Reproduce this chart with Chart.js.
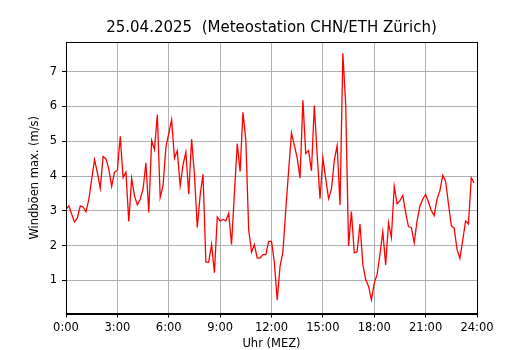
<!DOCTYPE html>
<html>
<head>
<meta charset="utf-8">
<script src="https://cdn.jsdelivr.net/npm/chart.js@4/dist/chart.umd.min.js"></script>
<style>
  html, body { margin: 0; padding: 0; background: #ffffff; }
  #c { display: block; }
</style>
</head>
<body>
<canvas id="c" width="530" height="350"></canvas>
<script>
// ---- data (10-minute maximum gusts, m/s), 25.04.2025 ----
const titleText = '25.04.2025  (Meteostation CHN/ETH Zürich)';
const xAxisLabel = 'Uhr (MEZ)';
const yAxisLabel = 'Windböen max. (m/s)';
const hourTicks = ['0:00','3:00','6:00','9:00','12:00','15:00','18:00','21:00','24:00'];
const stepMinutes = 10;
const gustMax = [
  3.04,3.14,2.90,2.68,2.80,3.14,3.11,2.97,3.33,3.91,
  4.47,4.09,3.65,4.56,4.50,4.20,3.70,4.11,4.16,5.14,
  3.96,4.11,2.69,3.93,3.43,3.17,3.33,3.62,4.38,2.95,
  5.02,4.76,5.77,3.38,3.72,4.83,5.22,5.62,4.51,4.73,
  3.72,4.32,4.69,3.48,5.06,4.05,2.52,3.45,4.05,1.52,
  1.52,2.03,1.22,2.82,2.71,2.75,2.71,2.93,2.03,3.50,
  4.93,4.13,5.83,5.04,2.46,1.81,2.03,1.64,1.64,1.74,
  1.74,2.12,2.12,1.52,0.43,1.41,1.82,3.02,4.16,5.24,
  4.88,4.52,3.94,6.18,4.65,4.73,4.15,6.03,4.60,3.35,
  4.52,3.91,3.35,3.62,4.45,4.88,3.17,7.53,6.05,1.99,
  2.98,1.79,1.82,2.62,1.46,1.02,0.83,0.44,0.92,1.17,
  1.75,2.40,1.44,2.66,2.23,3.70,3.20,3.29,3.44,2.95,
  2.54,2.52,2.08,2.71,3.13,3.34,3.47,3.25,3.00,2.86,
  3.34,3.58,4.02,3.85,3.20,2.57,2.50,1.89,1.63,2.15,
  2.71,2.62,3.95,3.80
];

const points = gustMax.map((v, i) => ({ x: i * stepMinutes / 60, y: v }));

const FONT = "'DejaVu Sans', sans-serif";

const frame = {
  id: 'frame',
  beforeDraw(chart) {
    const ctx = chart.ctx;
    ctx.save();
    ctx.fillStyle = '#ffffff';
    ctx.fillRect(0, 0, chart.width, chart.height);
    ctx.restore();
  },
  afterDatasetsDraw(chart) {
    const a = chart.chartArea;
    const ctx = chart.ctx;
    ctx.save();
    ctx.strokeStyle = '#000000';
    ctx.lineWidth = 1;
    ctx.strokeRect(Math.round(a.left) + 0.5, Math.round(a.top) + 0.5,
                   Math.round(a.right) - Math.round(a.left), Math.round(a.bottom) - Math.round(a.top));
    ctx.restore();
  }
};

new Chart(document.getElementById('c'), {
  type: 'line',
  data: {
    datasets: [{
      data: points,
      borderColor: '#ff0000',
      borderWidth: 1.3,
      pointRadius: 0,
      tension: 0,
      fill: false
    }]
  },
  options: {
    responsive: false,
    animation: false,
    devicePixelRatio: 1,
    layout: { padding: { left: 0, right: 53, top: 0, bottom: 0 } },
    plugins: {
      legend: { display: false },
      tooltip: { enabled: false },
      title: {
        display: true,
        fullSize: false,
        text: titleText,
        color: '#000000',
        font: { family: FONT, size: 15, weight: 'normal', lineHeight: 1.2 },
        padding: { top: 19, bottom: 5 }
      }
    },
    scales: {
      x: {
        type: 'linear',
        min: 0,
        max: 24,
        afterFit(scale) { scale.height = 36.5; },
        ticks: {
          stepSize: 3,
          autoSkip: false,
          maxRotation: 0,
          color: '#000000',
          padding: 4,
          font: { family: FONT, size: 11.5 },
          callback: (v) => hourTicks[Math.round(v / 3)]
        },
        grid: {
          color: '#b0b0b0',
          lineWidth: 1,
          drawTicks: true,
          tickLength: 4,
          tickColor: '#000000',
          tickWidth: 1
        },
        border: { display: true, color: '#000000', width: 1 },
        title: {
          display: true,
          text: xAxisLabel,
          color: '#000000',
          font: { family: FONT, size: 11.5, lineHeight: 1 },
          padding: { top: 0, bottom: 0 }
        }
      },
      y: {
        type: 'linear',
        min: 0.045,
        max: 7.855,
        afterFit(scale) { scale.width = 66; },
        ticks: {
          stepSize: 1,
          includeBounds: false,
          color: '#000000',
          padding: 5,
          font: { family: FONT, size: 11.5 }
        },
        grid: {
          color: '#b0b0b0',
          lineWidth: 1,
          drawTicks: true,
          tickLength: 4,
          tickColor: '#000000',
          tickWidth: 1
        },
        border: { display: true, color: '#000000', width: 1 },
        title: {
          display: true,
          text: yAxisLabel,
          color: '#000000',
          font: { family: FONT, size: 11.5 },
          padding: { top: 28, bottom: 0 }
        }
      }
    }
  },
  plugins: [frame]
});
</script>
</body>
</html>
